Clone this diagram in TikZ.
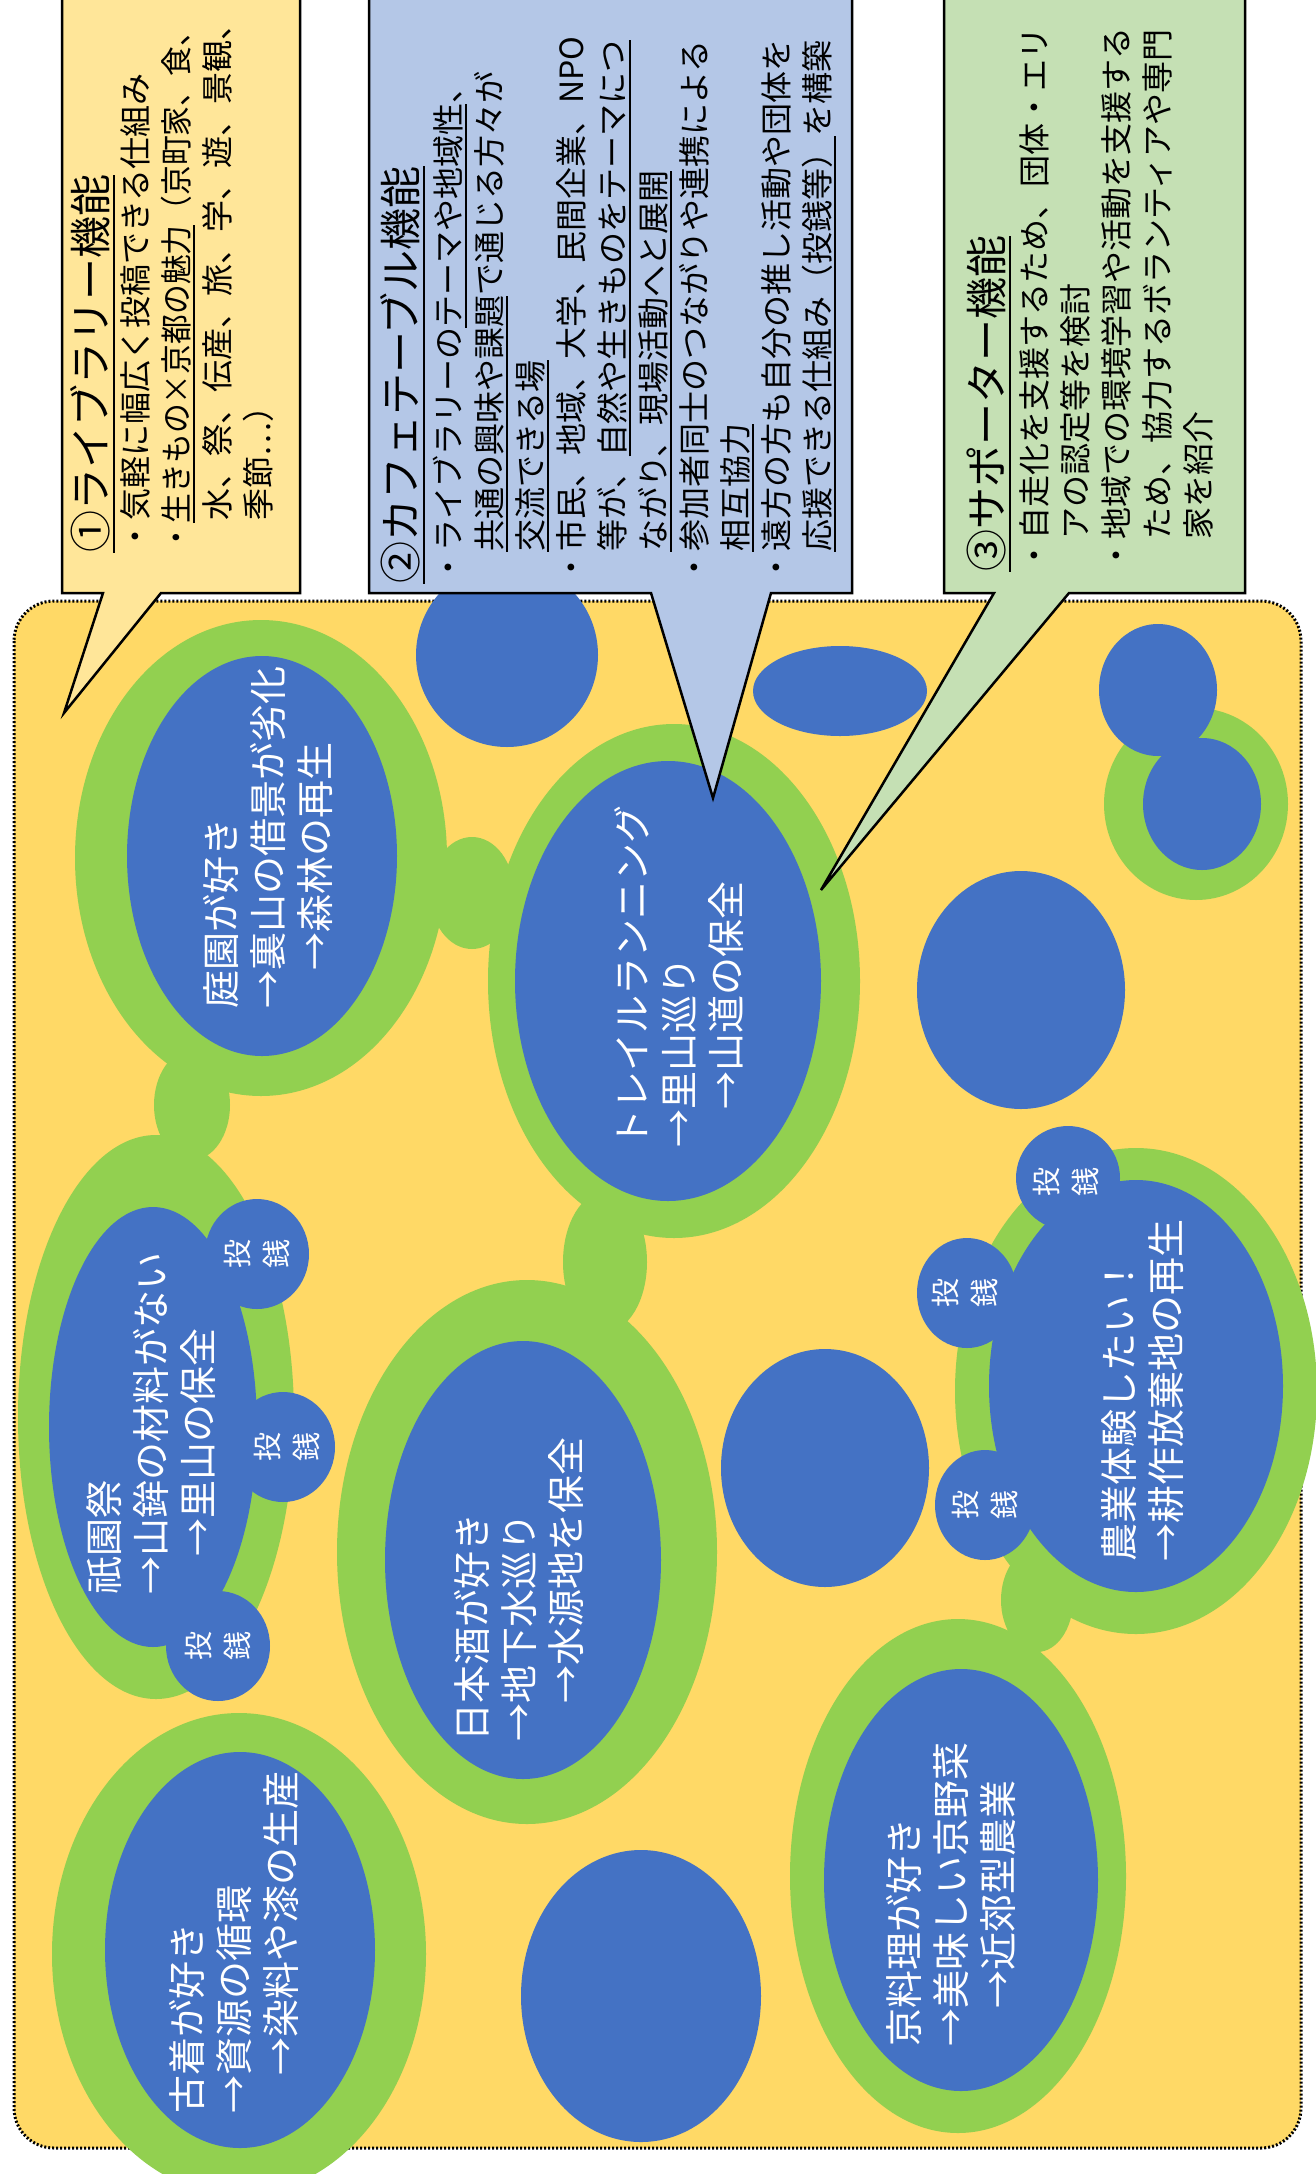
\documentclass[tikz,border=0pt]{standalone}
\usepackage{fontspec}
\usepackage{graphicx}
\setmainfont{Noto Sans CJK JP}
\definecolor{cyellow}{HTML}{FFD966}
\definecolor{cgreen}{HTML}{92D050}
\definecolor{cblue}{HTML}{4472C4}
\definecolor{ccA}{HTML}{FFE699}
\definecolor{ccB}{HTML}{B4C7E7}
\definecolor{ccC}{HTML}{C5E0B4}
\newcommand\myul[1]{\leavevmode\setbox0=\hbox{#1}\rlap{\rule[-0.2em]{\wd0}{2pt}}\box0}
\tikzset{
  grn/.style={fill=cgreen},
  blu/.style={fill=cblue},
  etxt/.style={text=white, rotate=90, align=left, inner sep=0pt, font=\fontsize{38}{47}\selectfont},
  cointxt/.style={text=white, rotate=90, align=center, inner sep=0pt, font=\fontsize{29}{39}\selectfont},
  ctxt/.style={rotate=90, align=left, anchor=north west, inner sep=0pt, font=\fontsize{32}{41}\selectfont},
  callout/.style={draw=black, line width=2.5pt, line join=miter},
  framebox/.style={fill=cyellow, draw=black, line width=3pt, dash pattern=on 2pt off 2pt, rounded corners=40pt},
}
\begin{document}
\begin{tikzpicture}[x=1pt,y=-1pt]
\useasboundingbox (0,0) rectangle (1316,2174);
\clip (0,0) rectangle (1316,2174);
\fill[white] (0,0) rectangle (1316,2174);
% main frame
\draw[framebox] (14,601) rectangle (1301,2148);
% green rings and links
\fill[grn] (261,858) ellipse [x radius=186, y radius=238];
\fill[grn] (472,893) ellipse [x radius=42, y radius=56];
\fill[grn] (192,1105) ellipse [x radius=38, y radius=55];
\fill[grn] (674,981) ellipse [x radius=186, y radius=257];
\fill[grn] (605,1262) ellipse [x radius=42, y radius=70];
\fill[grn] (156,1417) ellipse [x radius=138, y radius=282];
\fill[grn] (527,1552) ellipse [x radius=190, y radius=272];
\fill[grn] (239,1954) ellipse [x radius=187, y radius=241];
\fill[grn] (958,1876) ellipse [x radius=168, y radius=257];
\fill[grn] (1037,1600) ellipse [x radius=36, y radius=52];
\fill[grn] (1136,1391) ellipse [x radius=181, y radius=243];
\fill[grn] (1196,804) ellipse [x radius=92, y radius=96];
% blue shapes
\fill[blu] (262,856) ellipse [x radius=135, y radius=200];
\fill[blu] (507,655) ellipse [x radius=91, y radius=92];
\fill[blu] (840,691) ellipse [x radius=87, y radius=45];
\fill[blu] (668,981) ellipse [x radius=153, y radius=220];
\fill[blu] (1158,690) ellipse [x radius=59, y radius=66];
\fill[blu] (1202,804) ellipse [x radius=59, y radius=66];
\fill[blu] (1021,990) ellipse [x radius=104, y radius=119];
\fill[blu] (153,1427) ellipse [x radius=104, y radius=220];
\fill[blu] (257,1254) ellipse [x radius=52, y radius=55];
\fill[blu] (283,1447) ellipse [x radius=52, y radius=55];
\fill[blu] (218,1646) ellipse [x radius=52, y radius=55];
\fill[blu] (523,1560) ellipse [x radius=138, y radius=219];
\fill[blu] (825,1468) ellipse [x radius=104, y radius=119];
\fill[blu] (1136,1386) ellipse [x radius=147, y radius=206];
\fill[blu] (1068,1178) ellipse [x radius=52, y radius=52];
\fill[blu] (967,1293) ellipse [x radius=50, y radius=55];
\fill[blu] (985,1505) ellipse [x radius=50, y radius=55];
\fill[blu] (641,1996) ellipse [x radius=120, y radius=146];
\fill[blu] (240,1950) ellipse [x radius=135, y radius=198];
\fill[blu] (961,1880) ellipse [x radius=137, y radius=211];
% ellipse texts
\node[etxt] (t1) at (268,837) {庭園が好き\\→裏山の借景が劣化\\\hspace*{1em}→森林の再生};
\node[etxt] (t2) at (679,976) {トレイルランニング\\→里山巡り\\\hspace*{1em}→山道の保全};
\node[etxt] (t3) at (151,1423) {祇園祭\\→山鉾の材料がない\\\hspace*{1em}→里山の保全};
\node[etxt] (t4) at (519,1589) {日本酒が好き\\→地下水巡り\\\hspace*{1em}→水源地を保全};
\node[etxt] (t5) at (234,1942) {古着が好き\\→資源の循環\\\hspace*{1em}→染料や漆の生産};
\node[etxt] (t6) at (951,1894) {京料理が好き\\→美味しい京野菜\\\hspace*{1em}→近郊型農業};
\node[etxt] (t7) at (1143,1390) {農業体験したい！\\→耕作放棄地の再生};
% coin texts
\node[cointxt] (k1) at (257,1254) {投\\銭};
\node[cointxt] (k2) at (287,1447) {投\\銭};
\node[cointxt] (k3) at (218,1646) {投\\銭};
\node[cointxt] (k4) at (1066,1182) {投\\銭};
\node[cointxt] (k5) at (965,1293) {投\\銭};
\node[cointxt] (k6) at (985,1505) {投\\銭};
% callouts
\draw[callout, fill=ccA] (62,-10) -- (300,-10) -- (300,593) -- (161,593) -- (64,713) -- (103,593) -- (62,593) -- cycle;
\draw[callout, fill=ccB] (369,-10) -- (852,-10) -- (852,593) -- (771,593) -- (713,798) -- (651,593) -- (369,593) -- cycle;
\draw[callout, fill=ccC] (944,-10) -- (1245,-10) -- (1245,593) -- (1069,593) -- (821,890) -- (994,593) -- (944,593) -- cycle;
\node[ctxt] (c1) at (70,553) {{\fontsize{42}{48}\selectfont\myul{①ライブラリー機能}}\\
・気軽に幅広く投稿できる仕組み\\
\scalebox{0.93}[1]{・\myul{生きもの×京都の魅力}（京町家、食、}\\
\hspace*{1em}水、祭、伝産、旅、学、遊、景観、\\
\hspace*{1em}季節…）};
\node[ctxt] (c2) at (380,584) {{\fontsize{42}{48}\selectfont\myul{②カフェテーブル機能}}\\[3pt]
・ライブラリーの\myul{テーマや地域性}、\\
\hspace*{1em}\myul{共通の興味や課題}で通じる方々が\\
\hspace*{1em}\myul{交流できる場}\\
・市民、地域、大学、民間企業、NPO\\
\hspace*{1em}等が、\myul{自然や生きものをテーマにつ}\\
\hspace*{1em}\myul{ながり、現場活動へと展開}\\
・参加者同士のつながりや連携による\\
\hspace*{1em}\myul{相互協力}\\
・遠方の方も自分の推し活動や団体を\\
\hspace*{1em}\myul{応援できる仕組み（投銭等）}を構築};
\node[ctxt] (c3) at (967,572) {{\fontsize{42}{48}\selectfont\myul{③サポーター機能}}\\[3pt]
・自走化を支援するため、団体・エリ\\
\hspace*{1em}アの認定等を検討\\
・地域での環境学習や活動を支援する\\
\hspace*{1em}ため、協力するボランティアや専門\\
\hspace*{1em}家を紹介};
\end{tikzpicture}
\end{document}
